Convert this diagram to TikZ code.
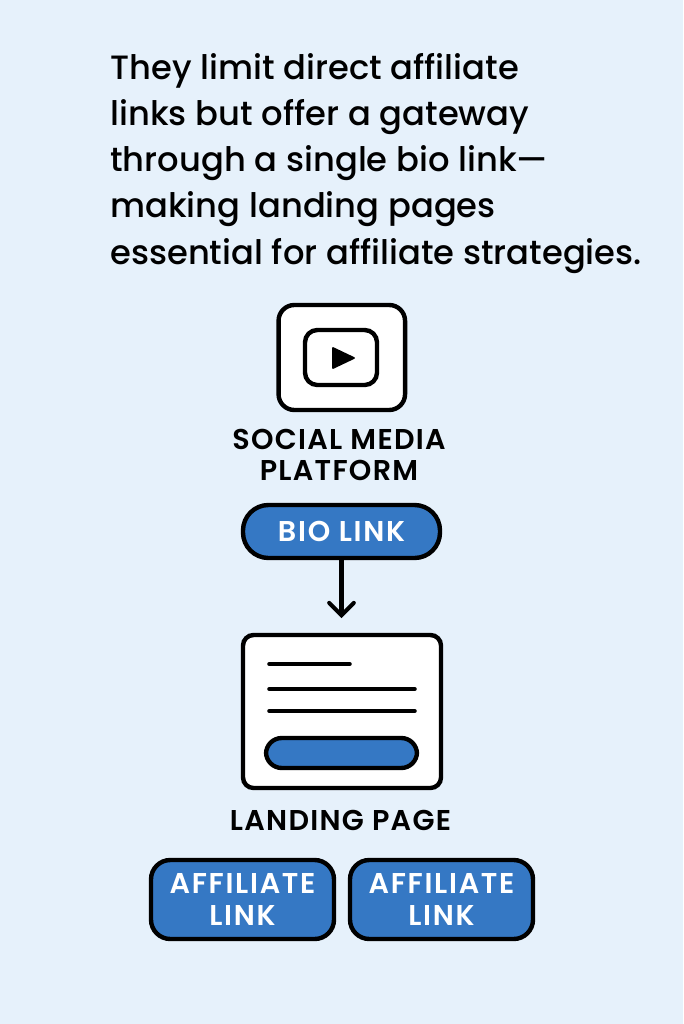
\documentclass[tikz,border=0pt]{standalone}
\usepackage{fontspec}
\setmainfont{Poppins}[BoldFont={Poppins SemiBold}]
\newfontfamily\headfont{Poppins Medium}
\newfontfamily\capfont{Poppins SemiBold}[LetterSpace=4.5]
\newfontfamily\linkfont{Poppins SemiBold}[LetterSpace=6]
\usetikzlibrary{arrows.meta}
\definecolor{pagebg}{HTML}{E6F1FB}
\definecolor{linkblue}{HTML}{3578C4}
\tikzset{
  panel/.style={draw=black,fill=white,line width=2.5pt,rounded corners=9pt,inner sep=0pt},
  bluebox/.style={draw=black,fill=linkblue,text=white,line width=2.5pt,inner sep=0pt,align=center,font=\fontsize{16.3}{18}\selectfont\linkfont},
  caption/.style={inner sep=0pt,align=center,font=\fontsize{16.3}{17.8}\selectfont\capfont},
  rule/.style={line width=2pt,line cap=round}
}
\begin{document}
\begin{tikzpicture}[x=0.02cm,y=-0.02cm]
\fill[pagebg] (0,0) rectangle (683,1024);
\node[anchor=north west,inner sep=0pt,align=left,font=\fontsize{19.2}{26.2}\selectfont\headfont] (heading) at (110,53.5) {They limit direct affiliate\\links but offer a gateway\\through a single bio link—\\making landing pages\\essential for affiliate strategies.};
% platform icon
\node[panel,minimum width=126.5*0.02cm,minimum height=105*0.02cm] (platform) at (341.8,357.5) {};
\node[panel,rounded corners=7pt,minimum width=72*0.02cm,minimum height=55*0.02cm] (screen) at (341,357.5) {};
\draw[fill=black,line width=1pt,line join=round] (333,348) -- (354,358) -- (333,368) -- cycle;
\node[caption] (platformtext) at (339,455) {SOCIAL MEDIA\\PLATFORM};
% bio link
\node[bluebox,rounded corners=14.5pt,minimum width=197*0.02cm,minimum height=53*0.02cm] (biolink) at (341.5,531.5) {BIO LINK};
\coordinate (arrowend) at (341.5,618);
\draw[line width=2.3pt,-{Straight Barb[length=7pt,width=14pt,line cap=round]}] (biolink.south) -- (arrowend);
% landing page
\node[panel,rounded corners=6pt,minimum width=198*0.02cm,minimum height=153*0.02cm] (landing) at (342,711.5) {};
\draw[rule] (269,664) -- (350,664);
\draw[rule] (269,689) -- (415,689);
\draw[rule] (269,711) -- (415,711);
\node[bluebox,rounded corners=9pt,minimum width=151*0.02cm,minimum height=30*0.02cm] (cta) at (341.5,753) {};
\node[caption] (landingtext) at (340.5,820) {LANDING PAGE};
% affiliate links
\node[bluebox,rounded corners=11pt,minimum width=183*0.02cm,minimum height=79*0.02cm] (affiliatea) at (242.5,899.5) {AFFILIATE\\LINK};
\node[bluebox,rounded corners=11pt,minimum width=183*0.02cm,minimum height=79*0.02cm] (affiliateb) at (441.5,899.5) {AFFILIATE\\LINK};
\end{tikzpicture}
\end{document}
